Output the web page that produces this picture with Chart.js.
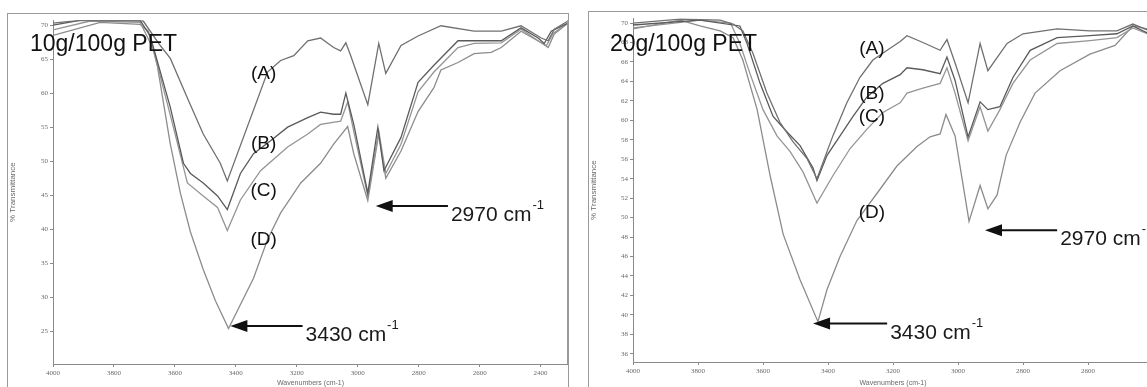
<!DOCTYPE html>
<html>
<head>
<meta charset="utf-8">
<script src="https://cdn.jsdelivr.net/npm/chart.js@4.4.1/dist/chart.umd.min.js"></script>
<style>
html, body { margin: 0; padding: 0; background: #fff; overflow: hidden; width: 1147px; height: 387px; }
.panel { position: absolute; border: 1px solid #9a9a9a; border-bottom: none; overflow: hidden; background: #fff; }
#p1 { left: 7px; top: 13px; width: 560px; height: 380px; }
#p2 { left: 588px; top: 11px; width: 580px; height: 380px; border-right: none; }
canvas { display: block; }
</style>
</head>
<body>
<div class="panel" id="p1"><canvas id="c1" width="560" height="373"></canvas></div>
<div class="panel" id="p2"><canvas id="c2" width="570" height="375"></canvas></div>
<script>
// 10g/100g PET spectra (wavenumber cm-1, % transmittance)
const leftWnA = [4000, 3911, 3704, 3648, 3615, 3559, 3507, 3451, 3428, 3296, 3253, 3210, 3164, 3122, 3079, 3056, 3039, 3023, 2967, 2931, 2908, 2858, 2802, 2727, 2618, 2529, 2464, 2398, 2375, 2355, 2310];
const leftTA  = [70.3, 70.7, 70.6, 67.0, 65.1, 59.3, 54.0, 49.7, 47.1, 63.1, 64.8, 65.5, 67.7, 68.1, 66.7, 66.2, 67.4, 65.5, 58.3, 67.3, 62.9, 67.0, 68.4, 69.9, 69.1, 69.1, 69.9, 68.1, 67.7, 69.4, 70.6];
const leftWnB = [4000, 3911, 3714, 3681, 3615, 3572, 3549, 3507, 3460, 3428, 3385, 3342, 3286, 3230, 3164, 3122, 3079, 3056, 3039, 3013, 2967, 2934, 2914, 2858, 2802, 2750, 2671, 2618, 2529, 2464, 2408, 2388, 2365, 2310];
const leftTB  = [70.0, 70.7, 70.7, 68.4, 57.9, 49.7, 48.2, 46.8, 44.9, 42.9, 48.2, 51.1, 53.0, 55.0, 56.4, 57.2, 56.9, 56.9, 60.0, 55.4, 45.3, 55.0, 48.6, 53.5, 61.6, 64.1, 67.7, 67.7, 67.7, 69.6, 68.1, 67.3, 69.1, 70.3];
const leftWnC = [4000, 3878, 3714, 3671, 3605, 3559, 3507, 3460, 3428, 3385, 3319, 3230, 3164, 3122, 3056, 3033, 3013, 2967, 2931, 2908, 2858, 2802, 2750, 2671, 2618, 2529, 2464, 2398, 2381, 2358, 2310];
const leftTC  = [69.3, 70.6, 70.4, 66.5, 55.0, 46.8, 44.9, 43.2, 39.8, 44.3, 48.6, 52.1, 54.0, 55.4, 55.9, 58.7, 54.4, 44.9, 54.4, 48.2, 52.5, 60.2, 63.1, 66.7, 67.3, 67.4, 69.4, 67.4, 67.0, 68.8, 70.3];
const leftWnD = [4000, 3845, 3714, 3687, 3658, 3615, 3582, 3549, 3507, 3467, 3424, 3342, 3296, 3253, 3187, 3122, 3079, 3033, 3013, 2967, 2931, 2908, 2858, 2802, 2750, 2727, 2671, 2618, 2562, 2529, 2464, 2398, 2375, 2355, 2310];
const leftTD  = [68.5, 70.4, 70.1, 69.1, 64.1, 52.5, 45.3, 39.6, 34.1, 29.5, 25.4, 32.8, 38.5, 42.4, 46.8, 49.7, 52.5, 55.1, 51.1, 44.2, 54.0, 47.5, 51.5, 57.3, 60.8, 63.4, 64.5, 65.8, 66.0, 66.7, 69.1, 67.4, 66.7, 68.7, 70.3];

// 20g/100g PET spectra
const rightWnA = [4000, 3855, 3732, 3692, 3662, 3631, 3588, 3548, 3508, 3465, 3434, 3385, 3342, 3302, 3262, 3218, 3178, 3157, 3108, 3055, 3034, 3009, 2969, 2932, 2908, 2849, 2800, 2695, 2594, 2511, 2462, 2418];
const rightTA  = [70.0, 70.4, 70.3, 69.9, 69.2, 66.9, 62.8, 59.8, 57.8, 56.1, 54.0, 58.4, 61.8, 64.4, 66.2, 67.2, 68.1, 68.7, 68.0, 67.2, 68.3, 65.9, 61.8, 67.9, 65.1, 67.9, 68.9, 69.4, 69.2, 69.2, 69.9, 69.3];
const rightWnB = [4000, 3794, 3671, 3649, 3609, 3569, 3526, 3486, 3446, 3434, 3403, 3363, 3323, 3280, 3231, 3178, 3157, 3108, 3055, 3034, 3009, 2969, 2932, 2908, 2871, 2831, 2778, 2695, 2594, 2511, 2462, 2418];
const rightTB  = [69.8, 70.3, 69.7, 67.9, 63.8, 60.4, 58.8, 57.4, 55.1, 53.8, 56.4, 58.4, 60.4, 62.4, 63.8, 64.7, 65.4, 65.2, 64.8, 66.5, 64.1, 58.3, 61.9, 61.1, 61.4, 64.4, 67.2, 68.5, 68.7, 68.9, 69.7, 69.0];
const rightWnC = [4000, 3794, 3700, 3671, 3640, 3600, 3557, 3517, 3477, 3434, 3385, 3332, 3280, 3231, 3178, 3157, 3108, 3055, 3034, 3009, 2969, 2932, 2908, 2871, 2831, 2778, 2695, 2594, 2511, 2462, 2418];
const rightTC  = [69.5, 70.3, 70.0, 67.9, 64.8, 61.1, 58.4, 56.8, 54.7, 51.5, 54.3, 57.1, 59.1, 60.8, 61.8, 62.8, 63.3, 63.8, 65.4, 62.8, 57.9, 61.4, 58.9, 61.1, 63.8, 66.2, 67.9, 68.2, 68.5, 69.5, 68.9];
const rightWnD = [4000, 3855, 3794, 3732, 3692, 3662, 3618, 3578, 3538, 3486, 3431, 3403, 3363, 3311, 3249, 3188, 3126, 3086, 3055, 3037, 3009, 2966, 2932, 2908, 2880, 2852, 2809, 2763, 2686, 2594, 2517, 2462, 2418];
const rightTD  = [69.4, 70.3, 69.7, 69.2, 68.5, 66.2, 61.1, 54.3, 48.3, 43.6, 39.3, 42.6, 46.0, 49.7, 52.5, 55.3, 57.3, 58.3, 58.6, 60.6, 58.4, 49.6, 53.3, 50.9, 52.3, 56.4, 59.8, 62.8, 65.1, 66.8, 67.7, 69.7, 69.4];

const leftXTicks = [4000, 3800, 3600, 3400, 3200, 3000, 2800, 2600, 2400];
const leftYTicks = [25, 30, 35, 40, 45, 50, 55, 60, 65, 70];
const rightXTicks = [4000, 3800, 3600, 3400, 3200, 3000, 2800, 2600];
const rightYTicks = [36, 38, 40, 42, 44, 46, 48, 50, 52, 54, 56, 58, 60, 62, 64, 66, 68, 70];

const curveNames = ['(A)', '(B)', '(C)', '(D)'];
const curveColors = ['#707070', '#5a5a5a', '#959595', '#8c8c8c'];

// label anchors in data units: [wavenumber, %T]
const leftLabelAt = [[3309, 62.9], [3309, 52.5], [3309, 45.6], [3309, 38.5]];
const rightLabelAt = [[3265, 67.4], [3265, 62.7], [3265, 60.4], [3265, 50.5]];

// arrows: tip wavenumber, tip %T, tail wavenumber, caption
const leftArrows = [
  { wn: 3418, t: 25.8, tail: 3181, text: '3430 cm' },
  { wn: 2941, t: 43.4, tail: 2704, text: '2970 cm' }
];
const rightArrows = [
  { wn: 3446, t: 39.1, tail: 3218, text: '3430 cm' },
  { wn: 2917, t: 48.7, tail: 2695, text: '2970 cm' }
];

const FONT = '"Liberation Sans", Arial, sans-serif';
const TICK_FONT = '"Liberation Serif", "DejaVu Serif", serif';

function toPoints(wn, t) {
  return wn.map((w, i) => ({ x: w, y: t[i] }));
}

function notes(title, titleX, titleY, labelAt, arrows) {
  return {
    id: 'notes',
    afterDatasetsDraw(chart) {
      const { ctx, chartArea: a, scales: { x, y } } = chart;
      ctx.save();
      // right edge of the plot frame
      ctx.strokeStyle = '#9a9a9a';
      ctx.lineWidth = 1;
      ctx.beginPath();
      ctx.moveTo(a.right - 0.5, a.top);
      ctx.lineTo(a.right - 0.5, a.bottom);
      ctx.stroke();

      ctx.fillStyle = '#111';
      ctx.textBaseline = 'middle';
      ctx.textAlign = 'left';
      ctx.font = '23px ' + FONT;
      ctx.fillText(title, titleX, titleY);

      ctx.textAlign = 'center';
      ctx.font = '19px ' + FONT;
      labelAt.forEach((p, i) => {
        ctx.fillText(curveNames[i], x.getPixelForValue(p[0]), y.getPixelForValue(p[1]));
      });

      ctx.textAlign = 'left';
      ctx.textBaseline = 'alphabetic';
      arrows.forEach(ar => {
        const tx = x.getPixelForValue(ar.wn);
        const ty = y.getPixelForValue(ar.t);
        const ex = x.getPixelForValue(ar.tail);
        ctx.strokeStyle = '#111';
        ctx.lineWidth = 2;
        ctx.beginPath();
        ctx.moveTo(tx + 14, ty);
        ctx.lineTo(ex, ty);
        ctx.stroke();
        ctx.fillStyle = '#111';
        ctx.beginPath();
        ctx.moveTo(tx, ty);
        ctx.lineTo(tx + 17, ty - 6);
        ctx.lineTo(tx + 17, ty + 6);
        ctx.closePath();
        ctx.fill();
        ctx.fillStyle = '#1a1a1a';
        ctx.font = '21px ' + FONT;
        ctx.fillText(ar.text, ex + 3, ty + 15);
        const w = ctx.measureText(ar.text).width;
        ctx.font = '13px ' + FONT;
        ctx.fillText('-1', ex + 3 + w + 1, ty + 3);
      });
      ctx.restore();
    }
  };
}

function makeChart(id, series, xr, yr, xTicks, yTicks, yWidth, xHeight, padRight, plugin) {
  const datasets = series.map((s, i) => ({
    label: curveNames[i],
    data: toPoints(s[0], s[1]),
    borderColor: curveColors[i],
    borderWidth: 1.3,
    pointRadius: 0,
    tension: 0,
    fill: false
  }));
  return new Chart(document.getElementById(id), {
    type: 'line',
    data: { datasets },
    options: {
      responsive: false,
      animation: false,
      layout: { padding: { top: 0, right: padRight, bottom: 0, left: 0 } },
      plugins: { legend: { display: false }, tooltip: { enabled: false } },
      scales: {
        x: {
          type: 'linear', reverse: true, min: xr[0], max: xr[1],
          afterBuildTicks: s => { s.ticks = xTicks.map(v => ({ value: v })); },
          afterFit: s => { s.height = xHeight; },
          grid: { drawOnChartArea: false, color: '#8a8a8a', tickLength: 3 },
          border: { color: '#8a8a8a' },
          ticks: { color: '#6a6a6a', font: { size: 7, family: TICK_FONT }, padding: 2, maxRotation: 0, autoSkip: false, callback: v => String(v) },
          title: { display: true, text: 'Wavenumbers (cm-1)', color: '#6a6a6a', font: { size: 7, family: FONT }, padding: 0 }
        },
        y: {
          min: yr[0], max: yr[1],
          afterBuildTicks: s => { s.ticks = yTicks.map(v => ({ value: v })); },
          afterFit: s => { s.width = yWidth; },
          grid: { drawOnChartArea: false, color: '#8a8a8a', tickLength: 3 },
          border: { color: '#8a8a8a' },
          ticks: { color: '#6a6a6a', font: { size: 7, family: TICK_FONT }, padding: 2, autoSkip: false, callback: v => String(v) },
          title: { display: true, text: '% Transmittance', color: '#6a6a6a', font: { size: 8, family: FONT }, padding: 0 }
        }
      }
    },
    plugins: [plugin]
  });
}

makeChart('c1',
  [[leftWnA, leftTA], [leftWnB, leftTB], [leftWnC, leftTC], [leftWnD, leftTD]],
  [2310, 4000], [20.2, 70.72], leftXTicks, leftYTicks, 45, 23, 0,
  notes('10g/100g PET', 22, 31, leftLabelAt, leftArrows));

makeChart('c2',
  [[rightWnA, rightTA], [rightWnB, rightTB], [rightWnC, rightTC], [rightWnD, rightTD]],
  [2400, 4000], [35.15, 70.5], rightXTicks, rightYTicks, 44, 25, 6,
  notes('20g/100g PET', 21, 33, rightLabelAt, rightArrows));
</script>
</body>
</html>
